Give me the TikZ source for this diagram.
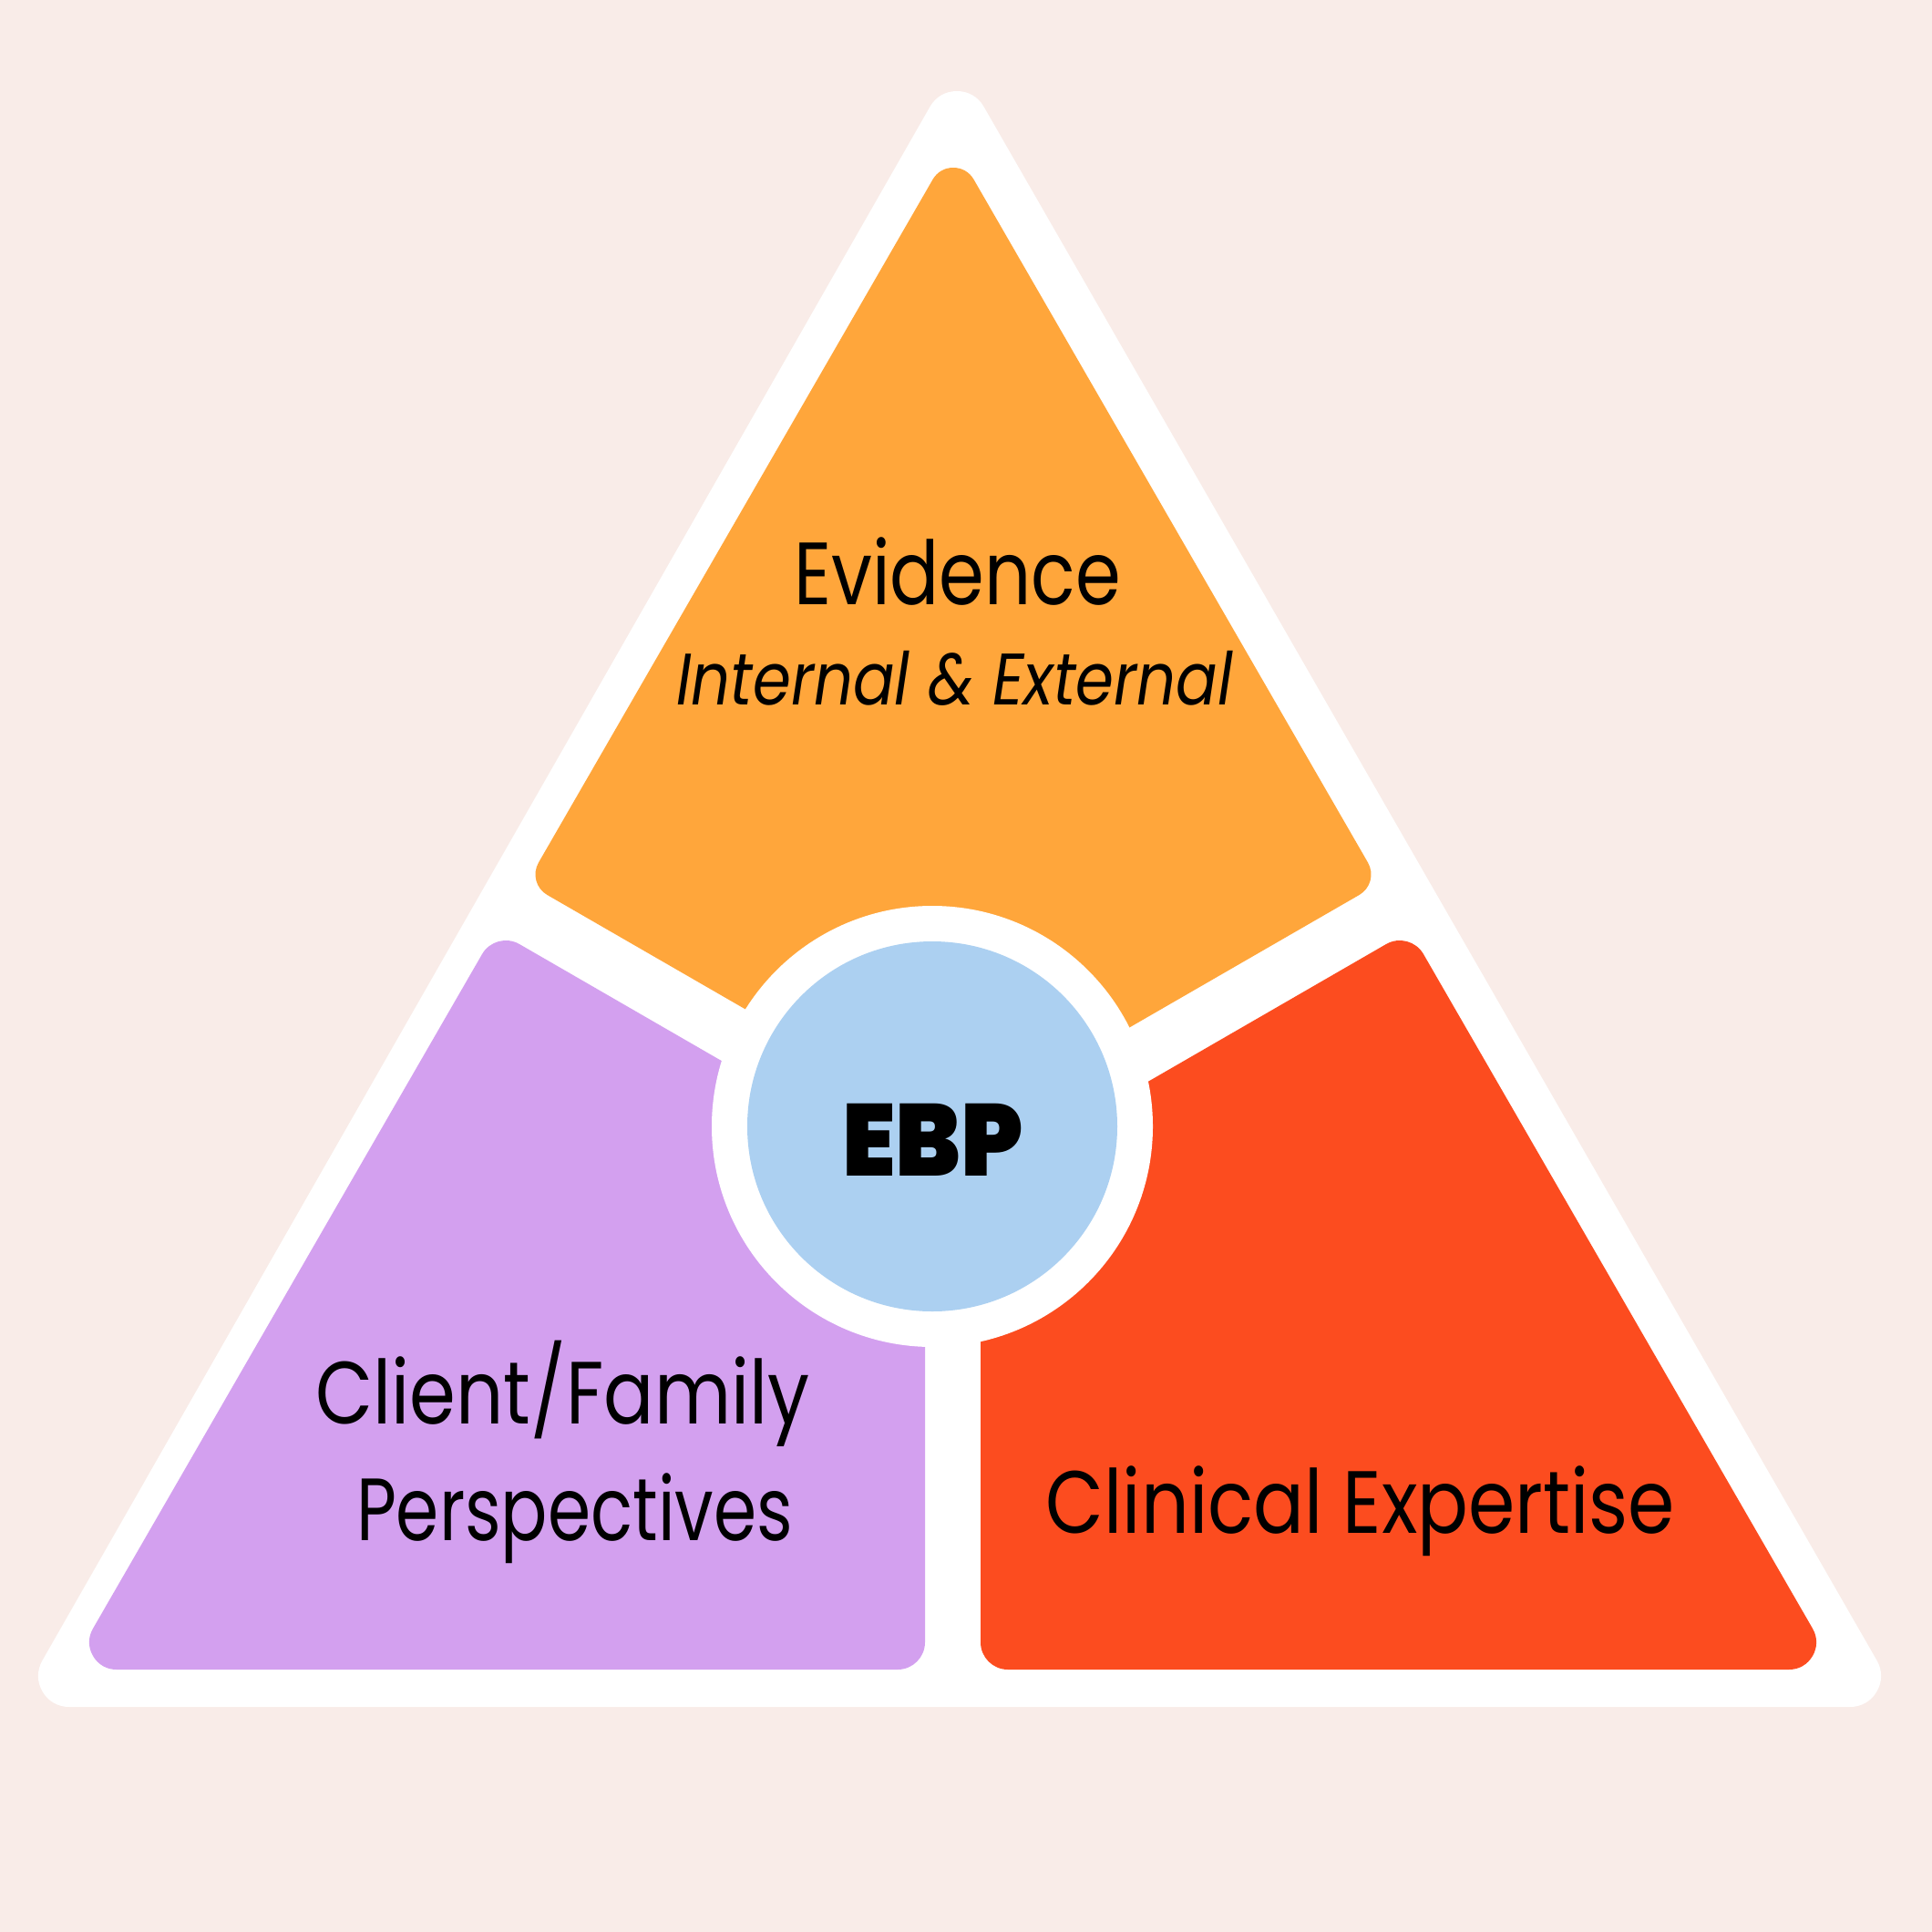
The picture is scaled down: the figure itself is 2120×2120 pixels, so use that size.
\documentclass[tikz,border=0pt]{standalone}
\usepackage{graphicx}
\usepackage{fontspec}
\setmainfont{Poppins}[FakeStretch=0.86]
\newfontfamily\ebpfont{Poppins Black}[FakeStretch=0.94]
\definecolor{bgpink}{HTML}{F9ECE8}
\definecolor{evorange}{HTML}{FFA63B}
\definecolor{cfpurple}{HTML}{D3A0EF}
\definecolor{cered}{HTML}{FC4C1F}
\definecolor{ebpblue}{HTML}{ACD0F1}
\tikzset{
  lbl/.style={anchor=base, inner sep=0pt, text=black},
  mainlbl/.style={lbl, font=\fontsize{97}{100}\selectfont},
  sublbl/.style={lbl, font=\fontsize{80}{84}\selectfont\itshape},
  ebplbl/.style={lbl, font=\fontsize{112}{116}\ebpfont},
  roundfill/.style={fill=#1, draw=#1, line join=round}
}
\begin{document}
\begin{tikzpicture}[x=1pt,y=-1pt]
\useasboundingbox (0,0) rectangle (2120,2120);
\fill[bgpink] (0,0) rectangle (2120,2120);
% outer white triangle (inset polygon + round stroke = rounded corners r=34)
\filldraw[roundfill=white, line width=68pt] (1050,134) -- (2030,1839) -- (76,1839) -- cycle;
% Evidence sector (r=26)
\filldraw[roundfill=evorange, line width=52pt] (1046,210) -- (1478.5,959.5) -- (1046,1209) -- (613.5,959.5) -- cycle;
% Client/Family sector (r=30)
\filldraw[roundfill=cfpurple, line width=60pt] (555,1062) -- (985,1310.3) -- (985,1802) -- (128,1802) -- cycle;
% Clinical Expertise sector (r=30)
\filldraw[roundfill=cered, line width=60pt] (1536,1062) -- (1963,1802) -- (1106,1802) -- (1106,1310.3) -- cycle;
% centre
\node[circle, fill=white, minimum size=484pt, inner sep=0pt] (ring) at (1023,1236) {};
\node[circle, fill=ebpblue, minimum size=406pt, inner sep=0pt] (ebp) at (1023,1236) {};
% labels
\node[mainlbl] (evid) at (1050.5,663) {\scalebox{0.96}[1]{Evidence}};
\node[sublbl] (intext) at (1047.5,773) {\scalebox{0.98}[1]{Internal \& External}};
\node[ebplbl] (ebptext) at (1023.5,1290) {EBP};
\node[mainlbl] (client) at (617.5,1562) {\scalebox{0.98}[1]{Client/Family}};
\node[mainlbl] (persp) at (630.5,1690) {\scalebox{0.91}[1]{Perspectives}};
\node[mainlbl] (clin) at (1493,1682) {\scalebox{0.99}[1]{Clinical Expertise}};
\end{tikzpicture}
\end{document}
